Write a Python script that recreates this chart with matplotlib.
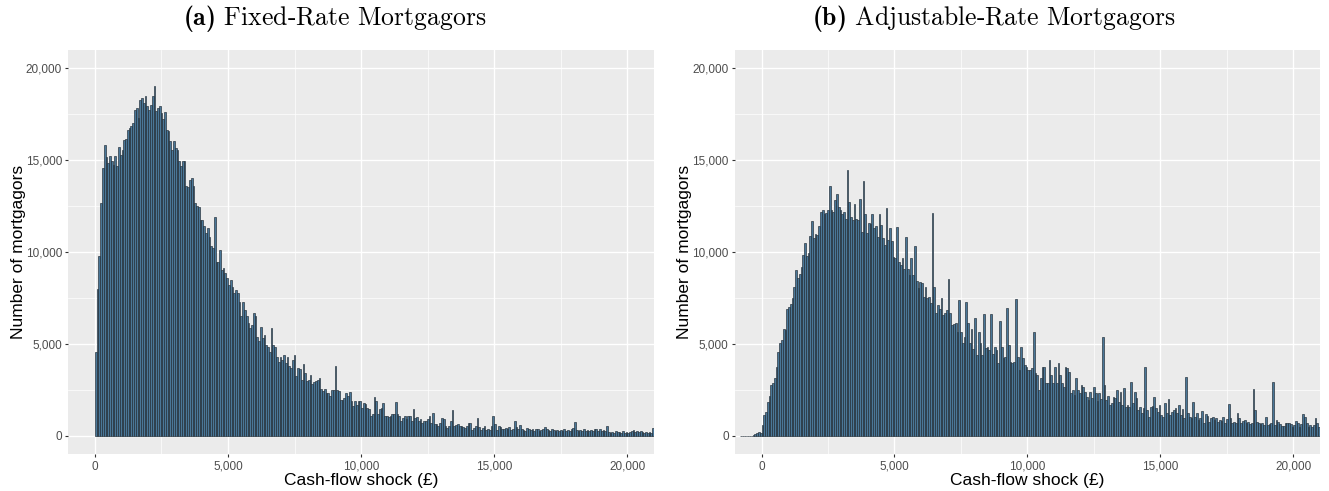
import numpy as np
import matplotlib
matplotlib.use("Agg")
import matplotlib.pyplot as plt
from matplotlib.ticker import FuncFormatter, MultipleLocator

plt.rcParams['font.family'] = ['Liberation Sans', 'DejaVu Sans']
plt.rcParams['mathtext.fontset'] = 'custom'
plt.rcParams['mathtext.rm'] = 'cmr10'
plt.rcParams['mathtext.bf'] = 'cmb10'

# histogram bins are 20000/300 wide
bin_width = 20000 / 300

# (a) fixed-rate: counts per bin, first bin starts at 0
fixed_first_bin = 0
fixed_counts = [
    4590, 8000, 9800, 12700, 14570, 15810, 15170, 14850, 15250, 14940, 14760, 15260, 14700, 15750, 15300,
    15570, 16120, 16150, 16660, 16750, 16880, 17020, 17750, 17840, 17300, 18300, 18390, 18110, 18480, 17930,
    17750, 18020, 18510, 19020, 17660, 17840, 17930, 17570, 17240, 17610, 16660, 16570, 16030, 15570, 16030,
    15660, 15570, 14940, 14670, 14940, 14940, 13580, 13540, 13940, 14030, 13580, 12670, 12490, 12450, 11760,
    11760, 11400, 11040, 11310, 10850, 10310, 10220, 11910, 9490, 9490, 10130, 9040, 9130, 8860, 8580,
    8220, 8460, 8130, 7770, 7950, 7770, 7310, 6500, 7310, 6860, 6500, 6130, 5860, 6040, 6680,
    6500, 5410, 5140, 5950, 5320, 5500, 4950, 4860, 4590, 5860, 4950, 4860, 4320, 4050, 4320,
    4140, 4410, 3960, 4320, 3780, 3680, 4140, 4410, 3250, 3710, 3620, 3070, 3890, 3430, 2980,
    3070, 3300, 2800, 2930, 2980, 3070, 3160, 2530, 2440, 2530, 2350, 2350, 2170, 2490, 2490,
    3830, 2490, 2440, 1980, 1980, 2070, 2310, 2170, 2380, 1890, 1620, 1890, 1660, 1910, 1910,
    1530, 1800, 1730, 1530, 1440, 1110, 1170, 2130, 1890, 1170, 1440, 1530, 1770, 1110, 1080,
    1040, 1110, 1170, 1220, 1840, 1170, 1110, 810, 990, 1110, 900, 1080, 1080, 810, 1480,
    990, 1040, 810, 900, 720, 810, 810, 900, 1080, 720, 1260, 630, 630, 530, 720,
    990, 900, 530, 440, 530, 810, 1400, 530, 590, 630, 530, 530, 500, 440, 530,
    680, 720, 350, 440, 530, 970, 500, 350, 440, 530, 350, 390, 350, 530, 1080,
    630, 350, 530, 500, 390, 355, 445, 355, 480, 317, 390, 810, 500, 355, 570,
    355, 317, 263, 425, 390, 317, 355, 263, 355, 390, 263, 317, 355, 480, 355,
    300, 263, 355, 317, 263, 317, 263, 317, 245, 355, 263, 317, 245, 355, 420,
    750, 317, 263, 317, 245, 355, 263, 317, 245, 300, 263, 355, 390, 263, 355,
    245, 317, 245, 535, 210, 172, 210, 172, 245, 190, 210, 172, 245, 172, 190,
    154, 210, 245, 300, 190, 245, 190, 263, 190, 172, 210, 172, 190, 154, 430,
]

# (b) adjustable-rate: first bin starts at -800
adjustable_first_bin = -12
adjustable_counts = [
    0, 0, 0, 0, 0, 0, 0, 60, 120, 180, 220, 150,
    600, 1140, 1320, 1870, 2170, 2770, 2900, 3130, 3730,
    4580, 5040, 5220, 5800, 5760, 6890, 7030, 7180, 7480, 8120, 9020, 8570, 8810, 9200, 9840, 10510,
    9780, 9930, 10870, 11710, 10750, 10980, 10930, 11420, 12190, 12320, 12100, 12140, 12290, 13590, 12290, 12190,
    12830, 13190, 12470, 12290, 12100, 12190, 11830, 14460, 12740, 11920, 11740, 12610, 11830, 11740, 12870,
    11110, 13860, 12100, 11050, 11600, 11520, 12070, 11340, 11420, 10840, 12100, 11470, 10750, 10380, 12380, 10650,
    11290, 10600, 9750, 9660, 11380, 9480, 9300, 9660, 9110, 10840, 9110, 8750, 9660, 8750, 10330, 8440,
    8030, 8390, 8300, 7570, 8120, 7480, 7570, 7210, 12140, 8080, 6670, 7120, 6890, 7520, 6580, 6700,
    6850, 8530, 6670, 6030, 6090, 6160, 5670, 7390, 5670, 5040, 5400, 7300, 6120, 5040, 5820, 4710,
    6400, 4400, 5670, 5070, 4400, 6630, 4770, 4860, 4680, 6610,
    4460, 4820, 4680, 3990, 6270, 4820, 4220,
    4280, 6940, 4950, 4040, 3950, 4000, 7430, 4280, 3590, 4820, 4220, 3860, 3770, 3590,
    3590, 3680, 5670, 3440, 3320, 2500, 3130, 3730, 3770, 2860, 2900, 4130, 3320, 2860,
    3770, 2860, 3990, 3320, 2900, 2680, 3770, 3680, 3500, 2320, 2500, 2230, 3130, 2500,
    2320, 2770, 2650, 2410, 2140, 1960, 2410, 2050, 2680, 2360, 1920, 2320, 1990, 5400,
    2770, 1960, 2170, 1690, 1780, 2140, 2050, 2500, 1870, 2410, 1690, 2590, 1590, 1690,
    1590, 2950, 1780, 2410, 2050, 1410, 1590, 1230, 1500, 3770, 1410, 1050, 1560, 1630,
    2140, 1500, 1320, 1690, 1140, 1050, 1810, 1230, 1990, 1140, 1320, 1410, 1500, 1270,
    1690, 1140, 1450, 960, 3230, 1230, 1050, 960, 1870, 1050, 1230, 870, 960, 1380,
    690, 1200, 1090, 780, 960, 1050, 870, 960, 780, 870, 830, 1010, 690, 910,
    1740, 960, 690, 780, 690, 1270, 960, 690, 830, 870, 720, 780, 650, 690,
    2540, 1410, 780, 690, 650, 690, 600, 1050, 600, 650, 690, 2950, 600, 870,
    780, 650, 540, 540, 690, 720, 720, 650, 510, 600, 830, 690, 510, 650,
    1200, 1050, 690, 510, 600, 510, 600, 960, 690, 510,
]

titles = [r'$\mathbf{(a)}$ Fixed-Rate Mortgagors', r'$\mathbf{(b)}$ Adjustable-Rate Mortgagors']
x_label = 'Cash-flow shock (£)'
y_label = 'Number of mortgagors'

fig = plt.figure(figsize=(13.29, 4.91), dpi=100)
ax_a = fig.add_axes([0.0514, 0.0747, 0.4407, 0.8234])
ax_b = fig.add_axes([0.553, 0.0747, 0.4402, 0.8234])

comma = FuncFormatter(lambda v, p: f'{int(round(v)):,}')

panels = [(ax_a, fixed_first_bin, fixed_counts), (ax_b, adjustable_first_bin, adjustable_counts)]
for ax, first, counts in panels:
    lefts = (first + np.arange(len(counts))) * bin_width
    ax.bar(lefts, counts, width=bin_width, align='edge', color='#4A7798',
           edgecolor='#1f2a33', linewidth=0.45, zorder=2)
    ax.set_facecolor('#EBEBEB')
    ax.set_xlim(-1000, 21000)
    ax.set_ylim(-1000, 21000)
    ax.xaxis.set_major_locator(MultipleLocator(5000))
    ax.xaxis.set_minor_locator(MultipleLocator(2500))
    ax.yaxis.set_major_locator(MultipleLocator(5000))
    ax.yaxis.set_minor_locator(MultipleLocator(2500))
    ax.xaxis.set_major_formatter(comma)
    ax.yaxis.set_major_formatter(comma)
    ax.grid(which='major', color='white', linewidth=1.0, zorder=0)
    ax.grid(which='minor', color='white', linewidth=0.5, zorder=0)
    ax.set_axisbelow(True)
    for s in ax.spines.values():
        s.set_visible(False)
    ax.tick_params(which='major', length=2.5, width=0.8, color='#333333',
                   labelcolor='#4D4D4D', labelsize=8.5, pad=2)
    ax.tick_params(which='minor', length=0)
    ax.set_xlabel(x_label, fontsize=12.5, labelpad=0)
    ax.set_ylabel(y_label, fontsize=12.5, labelpad=0)

fig.text(0.252, 1 - 18 / 491, titles[0], ha='center', va='center', fontsize=18.5, family='cmr10')
fig.text(0.748, 1 - 18 / 491, titles[1], ha='center', va='center', fontsize=18.5, family='cmr10')

fig.savefig('out.png', dpi=100)
